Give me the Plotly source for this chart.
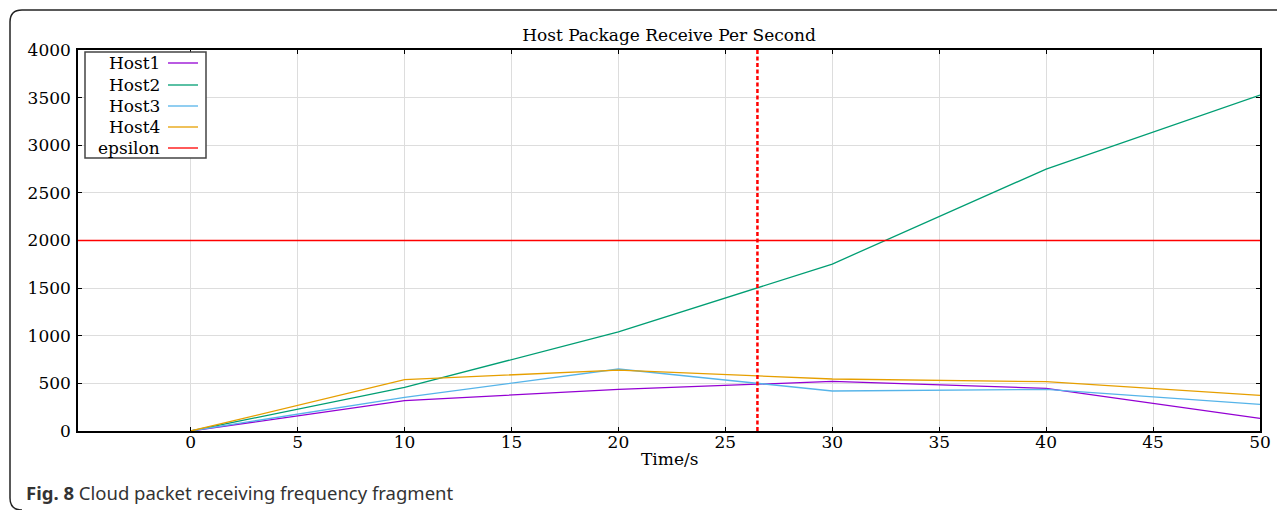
import plotly.graph_objects as go

# ---- data ----
time_s = [0, 10, 20, 30, 40, 50]
host1 = [0, 318, 438, 520, 448, 133]
host2 = [0, 458, 1040, 1753, 2750, 3527]
host3 = [0, 354, 651, 420, 437, 280]
host4 = [0, 539, 640, 546, 518, 374]
epsilon = 2000
cross_t = 26.5
series_names = ["Host1", "Host2", "Host3", "Host4", "epsilon"]
x_ticks = [0, 5, 10, 15, 20, 25, 30, 35, 40, 45, 50]
y_ticks = [0, 500, 1000, 1500, 2000, 2500, 3000, 3500, 4000]

colors = ["#9400D3", "#009E73", "#56B4E9", "#E69F00", "#FF0000"]

OFF = 8  # default page body margin
W, H = 1285 - OFF, 510 - OFF
# plot area in page pixels
L, R, T, B = 78, 1260, 50, 431
serif = "DejaVu Serif"

fig = go.Figure()
for name, ys, c in zip(series_names[:4], [host1, host2, host3, host4], colors[:4]):
    fig.add_trace(go.Scatter(x=time_s, y=ys, mode="lines", name=name,
                             line=dict(color=c, width=1.3), showlegend=False))

def px(xp):
    return (xp - L) / (R - L)

def py(yp):
    return (B - yp) / (B - T)

axis_common = dict(showline=True, linecolor="black", linewidth=1.5, mirror="allticks",
                   ticks="inside", ticklen=4, tickcolor="black",
                   showgrid=True, gridcolor="#DDDDDD", gridwidth=1, zeroline=False,
                   tickfont=dict(family=serif, size=17, color="black"))

fig.update_layout(
    width=W, height=H,
    margin=dict(l=L - OFF, r=W - (R - OFF), t=T - OFF, b=H - (B - OFF)),
    paper_bgcolor="white", plot_bgcolor="white",
    title=dict(text="Host Package Receive Per Second", x=((L + R) / 2 - OFF) / W, xanchor="center",
               y=1 - (35 - OFF) / H, yanchor="middle",
               font=dict(family=serif, size=17, color="black")),
    xaxis=dict(range=[-5.27, 50], tickvals=x_ticks, ticklabelstandoff=-5, **axis_common),
    yaxis=dict(range=[0, 4000], tickvals=y_ticks, ticklabelstandoff=2, **axis_common),
    showlegend=False,
)

fig.add_hline(y=epsilon, line=dict(color=colors[4], width=1.5))
fig.add_vline(x=cross_t, line=dict(color="#FF0000", width=2.5, dash="4px,2.5px"))

# custom legend (text left of line sample, as in the reference)
fig.add_shape(type="rect", xref="paper", yref="paper",
              x0=px(85), x1=px(206), y0=py(52), y1=py(158),
              line=dict(color="#444", width=1.5), fillcolor="white", layer="above")
row_y = [63, 85, 106, 127, 148]
for name, c, yy in zip(series_names, colors, row_y):
    fig.add_annotation(xref="paper", yref="paper", x=px(162), y=py(yy),
                       xanchor="right", yanchor="middle", text=name, showarrow=False,
                       font=dict(family=serif, size=17, color="black"))
    fig.add_shape(type="line", xref="paper", yref="paper",
                  x0=px(168), x1=px(198), y0=py(yy), y1=py(yy),
                  line=dict(color=c, width=1.3), layer="above")

# outer rounded frame (right and bottom edges fall outside the picture)
x0, y0, x1, y1, r = 10, 10, 1284, 510, 12
frame = dict(color="#222", width=1.5)
fig.add_shape(type="line", xref="paper", yref="paper", x0=px(x0 + r), x1=px(x1),
              y0=py(y0), y1=py(y0), line=frame, layer="above")
fig.add_shape(type="line", xref="paper", yref="paper", x0=px(x0), x1=px(x0),
              y0=py(y0 + r), y1=py(y1 - r), line=frame, layer="above")
path = (f"M {px(x0)},{py(y0 + r)} Q {px(x0)},{py(y0)} {px(x0 + r)},{py(y0)} "
        f"M {px(x0 + r)},{py(y1)} Q {px(x0)},{py(y1)} {px(x0)},{py(y1 - r)}")
fig.add_shape(type="path", xref="paper", yref="paper", path=path, line=frame, layer="above")

# axis title
fig.add_annotation(xref="paper", yref="paper", x=0.5, y=py(459),
                   xanchor="center", yanchor="middle", showarrow=False, text="Time/s",
                   font=dict(family=serif, size=17, color="black"))
# caption
fig.add_annotation(xref="paper", yref="paper", x=px(24), y=py(492),
                   xanchor="left", yanchor="middle", showarrow=False,
                   text="<b>Fig. 8</b> Cloud packet receiving frequency fragment",
                   font=dict(family="Noto Sans", size=18.5, color="#333"))

fig.write_html("out.html")
